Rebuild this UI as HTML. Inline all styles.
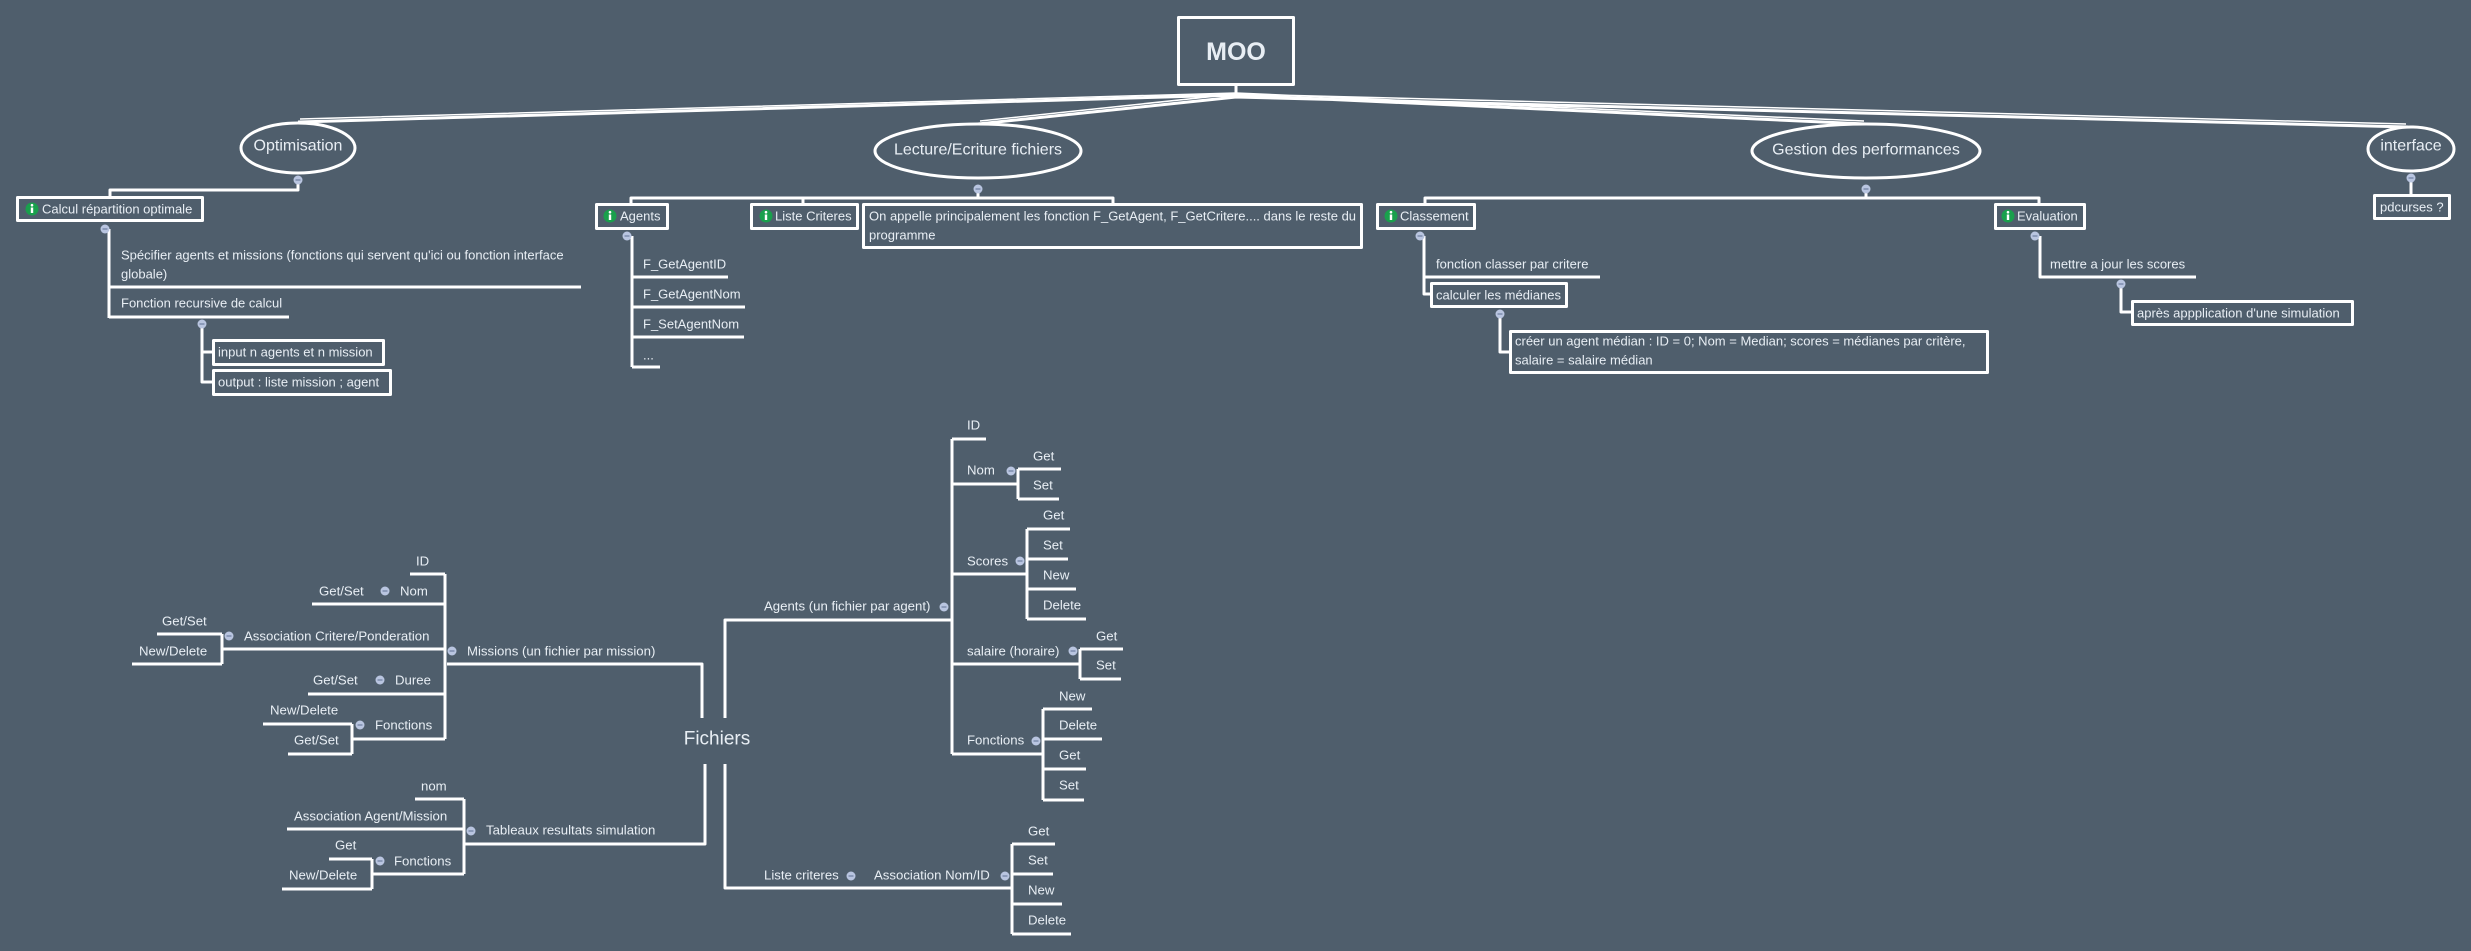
<!DOCTYPE html>
<html><head><meta charset="utf-8"><style>
html,body{margin:0;padding:0;background:#4f5e6c;}
svg{display:block}
text{font-family:"Liberation Sans",sans-serif;fill:#e8eef4;dominant-baseline:central}
.s{font-size:13px}
.m{font-size:13.2px}
</style></head><body>
<svg width="2471" height="951" viewBox="0 0 2471 951" xmlns="http://www.w3.org/2000/svg">
<defs>
<g id="dot"><circle r="4.5" fill="#b9c5e0"/><line x1="-2.5" y1="0" x2="2.5" y2="0" stroke="#6f7fa0" stroke-width="1.2"/></g>
<g id="info"><circle r="6.5" fill="#19a04c"/><rect x="-1.2" y="-1.5" width="2.4" height="5.5" fill="#fff"/><circle cy="-3.8" r="1.3" fill="#fff"/></g>
</defs>
<g fill="none" stroke="#fff" stroke-width="3" stroke-linejoin="round" stroke-linecap="butt">
<rect x="1178.5" y="17.5" width="115" height="67"/>
<line x1="1236" y1="85" x2="1236" y2="95"/>
<path d="M1236 95 L298 122 M1236 97 L978 124 M1236 95 L1866 124 M1236 97 L2408 127" stroke-width="3"/>
<path d="M1236 93 L300 119 M1236 94 L980 121 M1236 93 L1864 121 M1236 94 L2406 124" stroke-width="1.5"/>
<ellipse cx="298" cy="148" rx="57" ry="25"/>
<ellipse cx="978" cy="151" rx="103" ry="27"/>
<ellipse cx="1866" cy="151" rx="114" ry="27"/>
<ellipse cx="2411" cy="149" rx="43" ry="22"/>
<path d="M298 178 V190 H110 V196"/>
<rect x="17.5" y="197.5" width="185" height="23"/>
<path d="M109 229 V318 M109 287 H581 M109 317 H289"/>
<path d="M202 324 V382 H212 M202 352 H212"/>
<rect x="213.5" y="340.5" width="170" height="24"/>
<rect x="213.5" y="370.5" width="177" height="24"/>
<path d="M978 188 V198 M631 203 V198 H1113 V203 M803 198 V203"/>
<rect x="596.5" y="204.5" width="71" height="24"/>
<rect x="751.5" y="204.5" width="106" height="24"/>
<rect x="863.5" y="204.5" width="498" height="43"/>
<path d="M632 236 V367 M632 277 H728 M632 307 H745 M632 337 H744 M632 367 H660"/>
<path d="M1866 188 V198 M1425 203 V198 H2039 V203"/>
<rect x="1377.5" y="204.5" width="97" height="24"/>
<rect x="1995.5" y="204.5" width="89" height="24"/>
<path d="M1424 236 V294 H1430 M1424 277 H1600"/>
<rect x="1431.5" y="283.5" width="135" height="23"/>
<path d="M1500 314 V352 H1509"/>
<rect x="1510.5" y="331.5" width="477" height="41"/>
<path d="M2040 236 V277 H2196 M2121 284 V312 H2131"/>
<rect x="2132.5" y="301.5" width="220" height="23"/>
<path d="M2411 176 V194"/>
<rect x="2374.5" y="195.5" width="75" height="23"/>
<path d="M702 718 V664 H447"/>
<path d="M705 764 V844 H465"/>
<path d="M445 574 V739 M410 574 H445 M312 604 H445 M223 649 H445 M308 694 H445 M353 739 H445"/>
<path d="M222 634 V664 M157 634 H222 M132 664 H222"/>
<path d="M352 724 V754 M263 724 H352 M288 754 H352"/>
<path d="M464 799 V874 M415 799 H464 M287 829 H464 M373 874 H464"/>
<path d="M372 859 V889 M329 859 H372 M282 889 H372"/>
<path d="M725 718 V620 H952"/>
<path d="M725 764 V888 H1012"/>
<path d="M952 439 V754 M952 439 H986 M952 484 H1018 M952 574 H1027 M952 664 H1080 M952 754 H1043"/>
<path d="M1018 469 V499 M1018 469 H1061 M1018 499 H1059"/>
<path d="M1027 529 V619 M1027 529 H1070 M1027 559 H1068 M1027 589 H1076 M1027 619 H1086"/>
<path d="M1080 649 V679 M1080 649 H1123 M1080 679 H1121"/>
<path d="M1043 709 V800 M1043 709 H1092 M1043 739 H1102 M1043 769 H1086 M1043 800 H1084"/>
<path d="M1012 844 V934 M1012 844 H1055 M1012 874 H1053 M1012 904 H1062 M1012 934 H1071"/>
</g>
<use href="#dot" x="298" y="180"/><use href="#dot" x="105" y="229"/><use href="#dot" x="202" y="324"/>
<use href="#dot" x="978" y="189"/><use href="#dot" x="627" y="236"/>
<use href="#dot" x="1866" y="189"/><use href="#dot" x="1420" y="236"/><use href="#dot" x="1500" y="314"/>
<use href="#dot" x="2035" y="236"/><use href="#dot" x="2121" y="284"/><use href="#dot" x="2411" y="178"/>
<use href="#dot" x="452" y="651"/><use href="#dot" x="385" y="591"/><use href="#dot" x="229" y="636"/><use href="#dot" x="380" y="680"/><use href="#dot" x="360" y="725"/>
<use href="#dot" x="471" y="831"/><use href="#dot" x="380" y="861"/>
<use href="#dot" x="944" y="607"/><use href="#dot" x="1011" y="471"/><use href="#dot" x="1020" y="561"/><use href="#dot" x="1073" y="651"/><use href="#dot" x="1036" y="741"/>
<use href="#dot" x="851" y="876"/><use href="#dot" x="1005" y="876"/>
<use href="#info" x="32" y="209"/><use href="#info" x="610" y="216"/><use href="#info" x="766" y="216"/>
<use href="#info" x="1391" y="216"/><use href="#info" x="2008" y="216"/>
<text x="1236" y="52" text-anchor="middle" style="font-size:25px;font-weight:bold">MOO</text>
<text x="298" y="146" text-anchor="middle" style="font-size:16px">Optimisation</text>
<text x="978" y="150" text-anchor="middle" style="font-size:16px">Lecture/Ecriture fichiers</text>
<text x="1866" y="150" text-anchor="middle" style="font-size:16px">Gestion des performances</text>
<text x="2411" y="146" text-anchor="middle" style="font-size:16px">interface</text>
<g class="s">
<text x="42" y="209">Calcul répartition optimale</text>
<text x="121" y="255">Spécifier agents et missions (fonctions qui servent qu'ici ou fonction interface</text>
<text x="121" y="274">globale)</text>
<text x="121" y="303">Fonction recursive de calcul</text>
<text x="218" y="352">input n agents et n mission</text>
<text x="218" y="382">output : liste mission ; agent</text>
<text x="620" y="216">Agents</text>
<text x="775" y="216">Liste Criteres</text>
<text x="869" y="216">On appelle principalement les fonction F_GetAgent, F_GetCritere.... dans le reste du</text>
<text x="869" y="235">programme</text>
<text x="643" y="264">F_GetAgentID</text>
<text x="643" y="294">F_GetAgentNom</text>
<text x="643" y="324">F_SetAgentNom</text>
<text x="643" y="355">...</text>
<text x="1400" y="216">Classement</text>
<text x="2017" y="216">Evaluation</text>
<text x="1436" y="264">fonction classer par critere</text>
<text x="1436" y="295">calculer les médianes</text>
<text x="1515" y="341">créer un agent médian : ID = 0; Nom = Median; scores = médianes par critère,</text>
<text x="1515" y="360">salaire = salaire médian</text>
<text x="2050" y="264">mettre a jour les scores</text>
<text x="2137" y="313">après appplication d'une simulation</text>
<text x="2380" y="207">pdcurses ?</text>
</g>
<g class="m">
<text x="717" y="739" text-anchor="middle" style="font-size:19px">Fichiers</text>
<text x="467" y="651">Missions (un fichier par mission)</text>
<text x="416" y="561">ID</text>
<text x="400" y="591">Nom</text>
<text x="319" y="591">Get/Set</text>
<text x="244" y="636">Association Critere/Ponderation</text>
<text x="162" y="621">Get/Set</text>
<text x="139" y="651">New/Delete</text>
<text x="395" y="680">Duree</text>
<text x="313" y="680">Get/Set</text>
<text x="375" y="725">Fonctions</text>
<text x="270" y="710">New/Delete</text>
<text x="294" y="740">Get/Set</text>
<text x="486" y="830">Tableaux resultats simulation</text>
<text x="421" y="786">nom</text>
<text x="294" y="816">Association Agent/Mission</text>
<text x="394" y="861">Fonctions</text>
<text x="335" y="845">Get</text>
<text x="289" y="875">New/Delete</text>
<text x="764" y="606">Agents (un fichier par agent)</text>
<text x="967" y="425">ID</text>
<text x="967" y="470">Nom</text>
<text x="1033" y="456">Get</text>
<text x="1033" y="485">Set</text>
<text x="967" y="561">Scores</text>
<text x="1043" y="515">Get</text>
<text x="1043" y="545">Set</text>
<text x="1043" y="575">New</text>
<text x="1043" y="605">Delete</text>
<text x="967" y="651">salaire (horaire)</text>
<text x="1096" y="636">Get</text>
<text x="1096" y="665">Set</text>
<text x="967" y="740">Fonctions</text>
<text x="1059" y="696">New</text>
<text x="1059" y="725">Delete</text>
<text x="1059" y="755">Get</text>
<text x="1059" y="785">Set</text>
<text x="764" y="875">Liste criteres</text>
<text x="874" y="875">Association Nom/ID</text>
<text x="1028" y="831">Get</text>
<text x="1028" y="860">Set</text>
<text x="1028" y="890">New</text>
<text x="1028" y="920">Delete</text>
</g>
</svg>
</body></html>
